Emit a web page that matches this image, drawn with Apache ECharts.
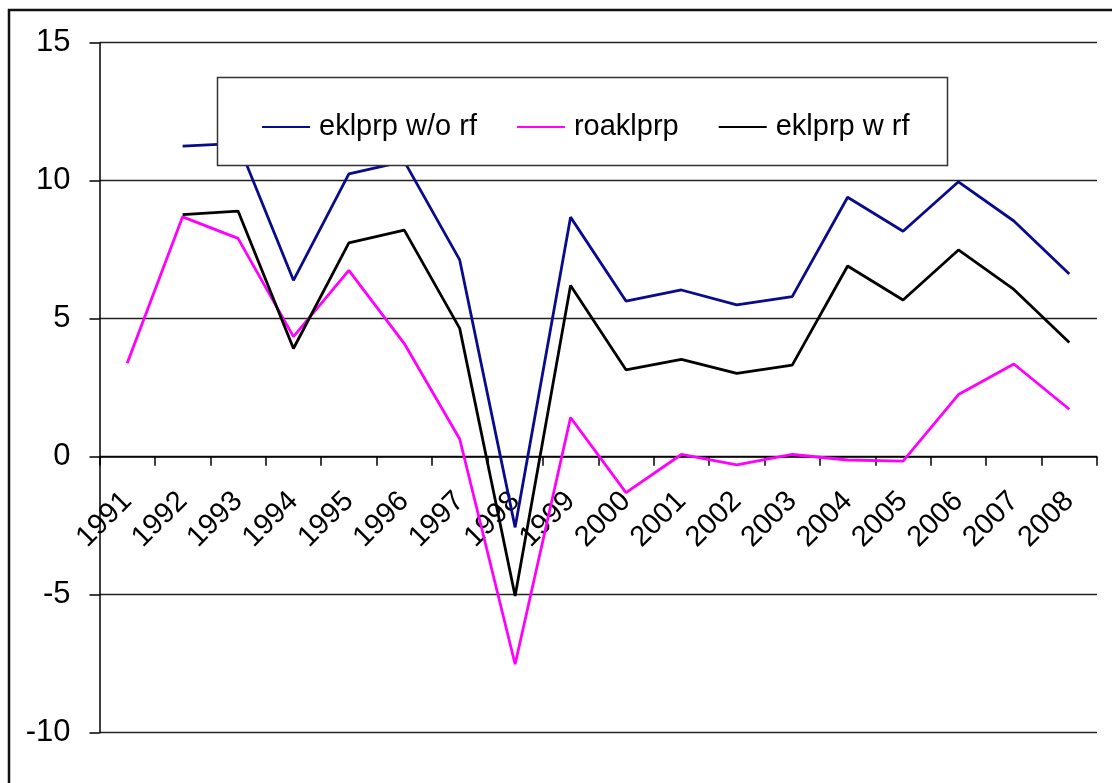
<!DOCTYPE html>
<html>
<head>
<meta charset="utf-8">
<title>eklprp / roaklprp 1991-2008</title>
<script src="https://cdn.jsdelivr.net/npm/echarts@6/dist/echarts.min.js"></script>
<style>
  html, body { margin: 0; padding: 0; background: #fff; }
  #chart { width: 1112px; height: 783px; }
</style>
</head>
<body>
<div id="chart"></div>
<script>
// Years on the category axis
const years = ['1991','1992','1993','1994','1995','1996','1997','1998','1999',
               '2000','2001','2002','2003','2004','2005','2006','2007','2008'];

// Return series (per cent)
const eklprpWithoutRf = [null, 11.25, 11.35, 6.39, 10.25, 10.7, 7.13, -2.56, 8.68,
                         5.64, 6.04, 5.5, 5.8, 9.4, 8.17, 9.96, 8.54, 6.62];
const roaklprp        = [3.39, 8.69, 7.91, 4.35, 6.75, 4.1, 0.64, -7.52, 1.42,
                         -1.3, 0.08, -0.3, 0.08, -0.12, -0.16, 2.25, 3.36, 1.72];
const eklprpWithRf    = [null, 8.77, 8.9, 3.92, 7.75, 8.21, 4.65, -5.05, 6.2,
                         3.15, 3.53, 3.02, 3.32, 6.91, 5.68, 7.49, 6.06, 4.14];

// Value axis ticks
const yMin = -10, yMax = 15, yStep = 5;

const FONT = "'Liberation Sans', Arial, sans-serif";

const GRID_TOP = 42.7, GRID_BOTTOM = 50.3, CHART_H = 783;

// The category axis sits on the zero line: shift it up from the grid bottom
// by the pixel distance between yMin and 0.
const plotH = CHART_H - GRID_TOP - GRID_BOTTOM;
const zeroOffset = -plotH * (0 - yMin) / (yMax - yMin);

const chart = echarts.init(document.getElementById('chart'), null, { renderer: 'canvas' });

function lineSeries(name, data, color) {
  return {
    name: name,
    type: 'line',
    data: data,
    symbol: 'none',
    connectNulls: false,
    z: 2,
    lineStyle: { color: color, width: 2.8 },
    itemStyle: { color: color },
    emphasis: { disabled: true }
  };
}

chart.setOption({
  animation: false,
  backgroundColor: '#fff',
  textStyle: { fontFamily: FONT },
  grid: { left: 99.5, right: 15, top: GRID_TOP, bottom: GRID_BOTTOM,
          containLabel: false, outerBoundsMode: 'none' },
  graphic: [
    {
      type: 'rect',
      z: 0,
      shape: { x: 9, y: 10, width: 1200, height: 900 },
      style: { fill: 'none', stroke: '#111', lineWidth: 2.5 }
    },
    {
      type: 'rect',
      z: 5,
      shape: { x: 217.5, y: 77.5, width: 730, height: 88 },
      style: { fill: '#fff', stroke: '#333', lineWidth: 1.5 }
    }
  ],
  legend: {
    z: 10,
    left: 257,
    top: 107,
    itemWidth: 48,
    itemHeight: 14,
    itemGap: 40,
    icon: 'path://M0,0 L48,0 L48,2 L0,2 Z',
    textStyle: {
      fontFamily: FONT,
      fontSize: 29,
      color: '#000',
      lineHeight: 30,
      padding: [0, 0, 0, 4]
    },
    data: [
      { name: 'eklprp w/o rf', itemStyle: { color: '#0a0a8c' } },
      { name: 'roaklprp', itemStyle: { color: '#ff00ff' } },
      { name: 'eklprp w rf', itemStyle: { color: '#000000' } }
    ]
  },
  xAxis: {
    type: 'category',
    data: years,
    boundaryGap: true,
    position: 'bottom',
    offset: zeroOffset,
    axisLine: { onZero: false, lineStyle: { color: '#000', width: 1.5 } },
    axisTick: { show: true, inside: false, length: 9, interval: 0,
                lineStyle: { color: '#000', width: 1.5 } },
    axisLabel: {
      interval: 0,
      rotate: 45,
      margin: 40,
      fontFamily: FONT,
      fontSize: 29,
      color: '#000'
    },
    splitLine: { show: false }
  },
  yAxis: {
    type: 'value',
    min: yMin,
    max: yMax,
    interval: yStep,
    axisLine: { show: true, lineStyle: { color: '#000', width: 1.5 } },
    axisTick: { show: true, inside: false, length: 10,
                lineStyle: { color: '#000', width: 1.5 } },
    axisLabel: {
      margin: 29,
      fontFamily: FONT,
      fontSize: 31,
      color: '#000'
    },
    splitLine: { show: true, lineStyle: { color: '#222', width: 1.3 } }
  },
  series: [
    lineSeries('eklprp w/o rf', eklprpWithoutRf, '#0a0a8c'),
    lineSeries('roaklprp', roaklprp, '#ff00ff'),
    lineSeries('eklprp w rf', eklprpWithRf, '#000000')
  ]
});
</script>
</body>
</html>
